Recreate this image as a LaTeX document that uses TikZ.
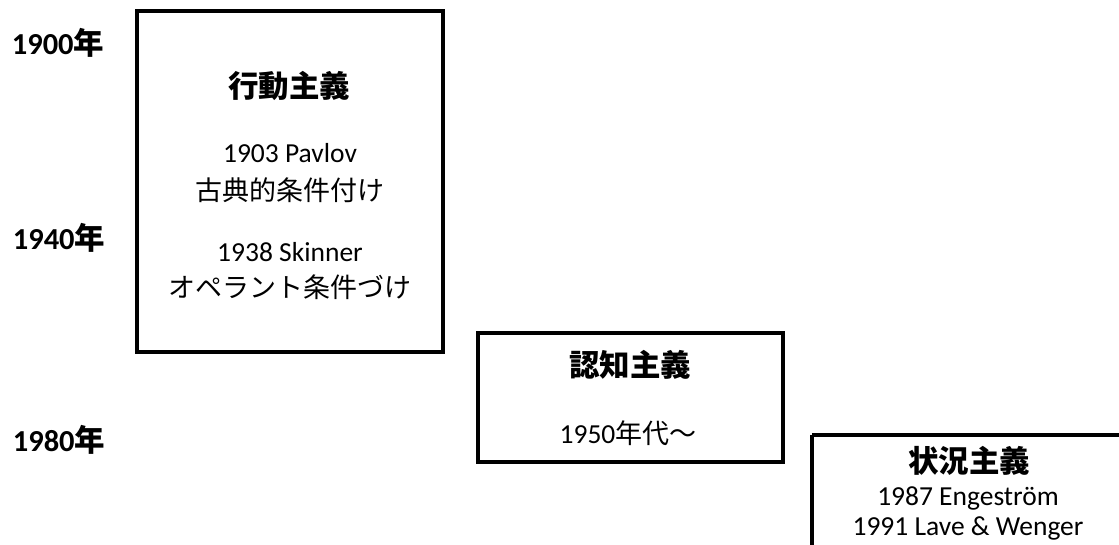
\documentclass[tikz,border=0pt]{standalone}
\usepackage{fontspec}
\setmainfont{Carlito}
\newfontfamily\cjk{Noto Sans CJK JP}
\tikzset{
  era/.style={draw=black, line width=3.2pt},
  yearlbl/.style={font=\fontsize{30.5}{34}\selectfont\bfseries, anchor=center, inner sep=0pt},
  ttl/.style={font=\fontsize{30.5}{34}\selectfont\bfseries\cjk, anchor=center, inner sep=0pt},
  body/.style={font=\fontsize{27.5}{32}\selectfont, anchor=center, inner sep=0pt},
  jbody/.style={font=\fontsize{27}{32}\selectfont\cjk, anchor=center, inner sep=0pt},
}
\begin{document}
\begin{tikzpicture}[x=1pt,y=-1pt]
\useasboundingbox (0,0) rectangle (1119,544);
% boxes
\draw[era] (137,11) rectangle (443,352);
\draw[era] (478,333) rectangle (783,462);
\draw[era] (812,435) -- (1130,435);
\draw[era] (812,435) -- (812,560);
% year labels
\node[yearlbl] (y1900) at (58,43) {1900{\cjk 年}};
\node[yearlbl] (y1940) at (59,238) {1940{\cjk 年}};
\node[yearlbl] (y1980) at (59,440) {1980{\cjk 年}};
% behaviorism
\node[ttl] (t1) at (289,86) {行動主義};
\node[body] (p1) at (290,153) {1903 Pavlov};
\node[jbody] (p2) at (290,190) {古典的条件付け};
\node[body] (s1) at (290,252) {1938 Skinner};
\node[jbody] (s2) at (290,287) {オペラント条件づけ};
% cognitivism
\node[ttl] (t2) at (630,365) {認知主義};
\node[body] (c1) at (628,433) {1950{\fontsize{27}{32}\selectfont\cjk 年代～}};
% situated
\node[ttl] (t3) at (969,461) {状況主義};
\node[body] (e1) at (968,498) {1987 Engeström};
\node[body] (l1) at (968,528) {1991 Lave \& Wenger};
\end{tikzpicture}
\end{document}
